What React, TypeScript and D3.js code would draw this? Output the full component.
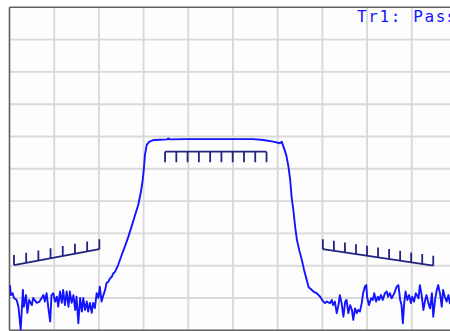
import React from "react";
import * as d3 from "d3";

// Frequency axis (MHz) and magnitude axis (dB), 10 divisions each
const freqStartMHz = 950;
const freqStopMHz = 1050;
const dbTop = 0;
const dbBottom = -100;
const divisions = 10;

// Measured trace Tr1: [frequency MHz, S21 dB]
const traceTr1: [number, number][] = [
  [950.1, -86.0], [950.3, -89.1], [950.7, -88.5], [951.0, -90.0], [951.6, -90.6], [952.0, -92.7],
  [952.5, -99.9], [953.0, -87.5], [953.2, -92.7], [953.7, -89.1], [954.0, -94.6], [954.4, -90.6],
  [955.0, -92.2], [955.3, -90.0], [956.1, -91.5], [956.7, -91.1], [957.2, -90.0], [957.6, -89.1],
  [957.9, -91.1], [958.3, -88.5], [958.7, -93.1], [959.1, -97.3], [959.4, -89.1], [959.8, -88.5],
  [960.2, -91.1], [960.6, -89.6], [960.9, -92.7], [961.3, -88.0], [961.7, -91.5], [962.0, -87.5],
  [962.4, -92.2], [962.8, -88.0], [963.2, -92.7], [963.5, -88.0], [963.9, -91.5], [964.3, -89.1],
  [964.7, -93.7], [965.0, -89.6], [965.4, -97.8], [965.8, -90.0], [966.2, -94.2], [966.5, -90.0],
  [966.9, -93.7], [967.3, -91.1], [967.6, -94.2], [968.0, -91.5], [968.4, -94.6], [968.7, -91.5],
  [969.1, -93.1], [969.5, -88.5], [969.9, -90.0], [970.2, -86.5], [970.6, -91.1], [971.0, -89.1],
  [971.4, -87.5],
  [971.7, -85.4], [972.1, -85.0], [972.5, -83.9], [972.9, -83.4], [973.2, -82.4], [973.6, -81.9],
  [974.3, -79.8], [975.1, -76.7], [975.8, -74.1], [976.6, -71.0], [977.3, -67.9], [978.1, -64.3],
  [978.8, -61.2], [979.4, -57.1], [979.8, -53.5], [980.1, -49.3], [980.3, -45.7], [980.7, -42.6],
  [981.3, -41.6], [982.2, -41.1], [983.7, -41.0], [985.2, -40.9], [985.5, -40.6], [985.9, -40.9],
  [989.6, -40.8], [997.1, -40.8], [1004.5, -40.8], [1006.8, -41.1], [1009.0, -41.6], [1010.5, -42.1],
  [1010.9, -41.6], [1011.3, -43.2], [1011.9, -45.7], [1012.4, -49.3], [1012.8, -53.5], [1013.1, -58.6],
  [1013.5, -62.8], [1013.9, -67.9], [1014.3, -72.0], [1014.8, -75.1], [1015.4, -78.2], [1015.9, -81.3],
  [1016.5, -84.4], [1016.9, -86.6], [1017.2, -87.0], [1018.0, -88.0], [1018.7, -88.5], [1019.5, -89.6],
  [1020.2, -91.1], [1020.6, -91.6],
  [1021.0, -91.1], [1021.7, -91.6], [1022.1, -90.6], [1022.4, -92.2], [1022.8, -91.1], [1023.2, -94.7],
  [1023.6, -92.2], [1023.9, -89.1], [1024.3, -91.6], [1024.7, -95.8], [1025.1, -91.1], [1025.4, -90.6],
  [1025.8, -94.7], [1026.2, -92.2], [1026.6, -93.7], [1026.9, -96.8], [1027.3, -93.2], [1027.7, -94.7],
  [1028.0, -93.7], [1028.4, -94.2], [1028.8, -91.6], [1029.1, -88.5], [1029.5, -86.5], [1029.8, -86.0],
  [1030.0, -89.6], [1030.4, -92.2], [1030.9, -90.1], [1031.3, -90.6], [1031.6, -88.5], [1032.0, -91.1],
  [1032.4, -89.6], [1032.7, -90.6], [1033.1, -89.1], [1033.5, -90.6], [1034.0, -88.5], [1034.4, -88.0],
  [1034.7, -89.6], [1035.1, -88.5], [1035.5, -90.1], [1036.1, -88.5], [1036.6, -86.5], [1037.0, -86.0],
  [1037.4, -90.6], [1037.7, -92.2], [1038.0, -97.8], [1038.3, -91.6], [1038.6, -88.0], [1039.0, -90.6],
  [1039.4, -89.1], [1039.8, -91.6], [1040.1, -89.6], [1040.5, -91.1], [1040.9, -88.5], [1041.5, -90.1],
  [1041.8, -86.0], [1042.2, -89.1], [1042.6, -93.7], [1043.0, -90.6], [1043.3, -89.1], [1043.7, -91.6],
  [1044.1, -93.2], [1044.5, -88.5], [1044.8, -95.8], [1045.2, -90.6], [1045.6, -87.5], [1045.9, -86.0],
  [1046.3, -88.5], [1046.7, -92.7], [1047.0, -87.5], [1047.4, -89.6], [1047.8, -91.1], [1048.2, -89.1],
  [1048.5, -91.6], [1049.2, -90.0], [1050.0, -89.5],
];

// Limit line segments
const limitStartMHz = [951.0, 984.8, 1020.1];
const limitStopMHz = [970.1, 1007.5, 1044.8];
const limitStartDb = [-79.8, -44.7, -74.9];
const limitStopDb = [-74.9, -44.7, -80.0];
const limitType = ["max", "min", "max"];
const limitTickCount = [8, 10, 11];

const statusText = "Tr1: Pass";

const W = 450;
const H = 331;
const left = 9.5;
const right = 456.5;
const top = 7.3;
const bottom = 330.3;

export default function App() {
  const x = d3.scaleLinear().domain([freqStartMHz, freqStopMHz]).range([left, right]);
  const y = d3.scaleLinear().domain([dbTop, dbBottom]).range([top, bottom]);

  const fStep = (freqStopMHz - freqStartMHz) / divisions;
  const dStep = (dbTop - dbBottom) / divisions;
  const vGrid = d3.range(1, divisions).map((i) => freqStartMHz + i * fStep);
  const hGrid = d3.range(1, divisions).map((i) => dbTop - i * dStep);

  const line = d3
    .line<[number, number]>()
    .x((d) => x(d[0]))
    .y((d) => y(d[1]));

  const limits = limitStartMHz.map((f0, i) => {
    const f1 = limitStopMHz[i];
    const d0 = limitStartDb[i];
    const d1 = limitStopDb[i];
    const n = limitTickCount[i];
    const dir = limitType[i] === "max" ? -1 : 1;
    const len = limitType[i] === "max" ? 10 : 10.5;
    const ticks = d3.range(n).map((k) => {
      const t = k / (n - 1);
      const f = f0 + (f1 - f0) * t;
      const d = d0 + (d1 - d0) * t;
      return { px: x(f), py: y(d), len: len * dir };
    });
    return {
      path: line([
        [f0, d0],
        [f1, d1],
      ]) as string,
      ticks,
    };
  });

  return (
    <svg
      width={W}
      height={H}
      style={{ position: "absolute", left: 0, top: 0, display: "block" }}
    >
      <defs>
        <clipPath id="plotClip">
          <rect x={left} y={top} width={right - left} height={bottom - top} />
        </clipPath>
      </defs>
      <rect x={0} y={0} width={W} height={H} fill="#ffffff" />
      <rect x={left} y={top} width={right - left} height={bottom - top} fill="#fdfdfd" />
      <g stroke="#d9d9d9" strokeWidth={1.9}>
        {vGrid.map((f) => (
          <line key={"v" + f} x1={x(f)} x2={x(f)} y1={top} y2={bottom} />
        ))}
        {hGrid.map((d) => (
          <line key={"h" + d} x1={left} x2={right} y1={y(d)} y2={y(d)} />
        ))}
      </g>
      <g fill="none" stroke="#5f5f5f" strokeWidth={1.6}>
        <line x1={left} x2={left} y1={top} y2={bottom} />
        <line x1={left} x2={right} y1={top} y2={top} />
        <line x1={left} x2={right} y1={bottom} y2={bottom} />
      </g>
      <g clipPath="url(#plotClip)">
        {limits.map((l, i) => (
          <g key={"lim" + i} stroke="#222280" strokeWidth={1.8} fill="none">
            <path d={l.path} />
            {l.ticks.map((t, k) => (
              <line key={k} x1={t.px} x2={t.px} y1={t.py} y2={t.py + t.len} />
            ))}
          </g>
        ))}
        <path
          d={line(traceTr1) as string}
          fill="none"
          stroke="#1414ff"
          strokeWidth={1.9}
          strokeLinejoin="round"
        />
      </g>
      <text
        x={357}
        y={21.5}
        fontFamily="DejaVu Sans Mono"
        fontSize={16}
        letterSpacing={1.6}
        fill="#1414ff"
      >
        {statusText}
      </text>
    </svg>
  );
}
